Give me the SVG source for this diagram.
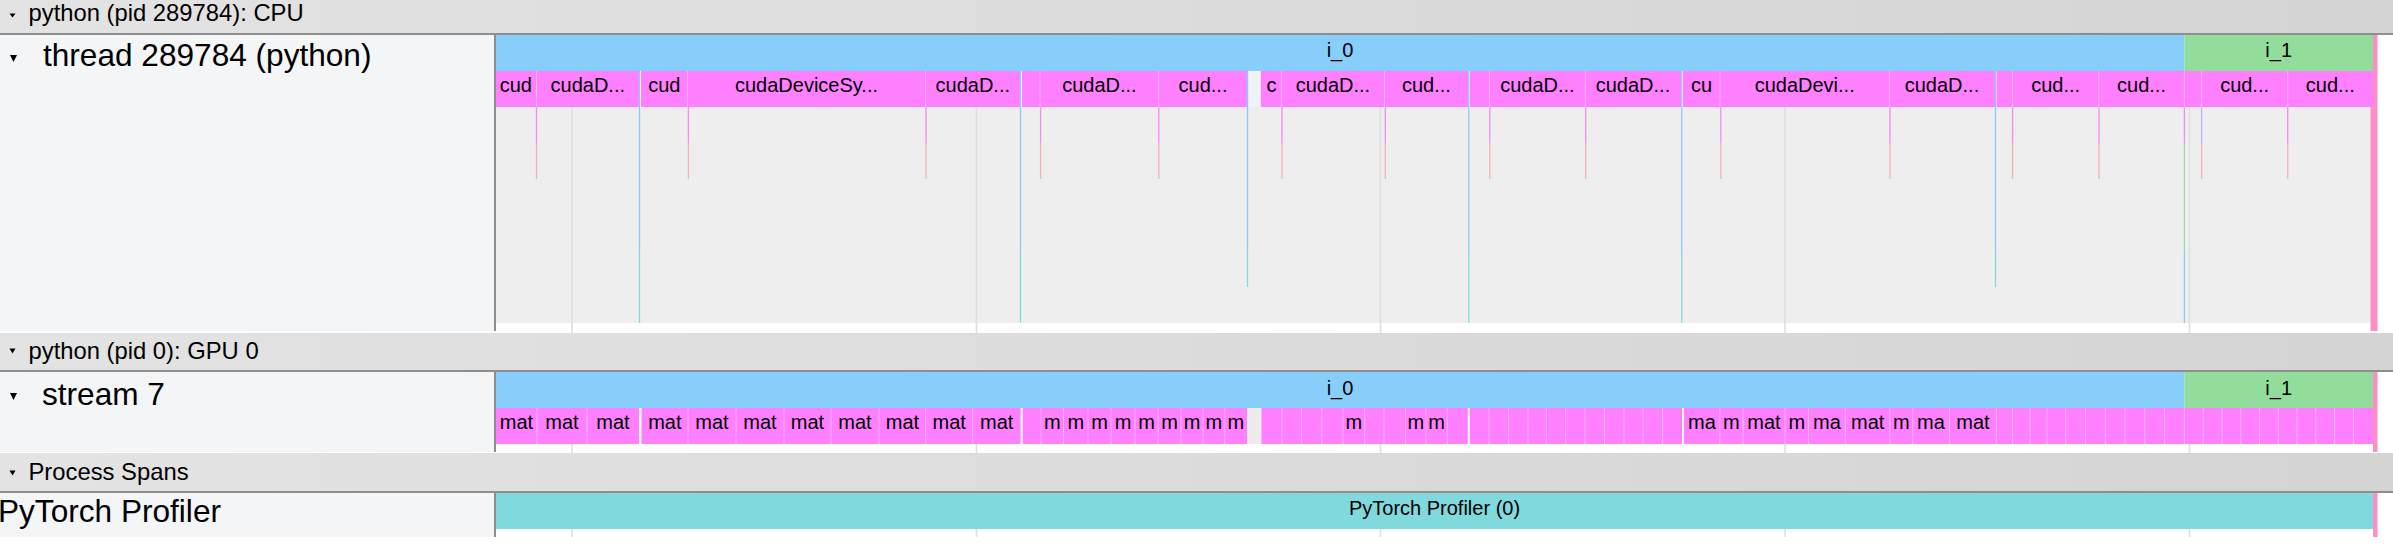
<svg xmlns="http://www.w3.org/2000/svg" width="2393" height="547" viewBox="0 0 2393 547">
<defs>
<linearGradient id="hg" x1="0" y1="0" x2="1" y2="0">
<stop offset="0" stop-color="#e3e3e3"/>
<stop offset="1" stop-color="#d4d4d4"/>
</linearGradient>
</defs>
<style>
text{font-family:"Liberation Sans",Arial,Helvetica,sans-serif;fill:#000}
.hdr{fill:url(#hg)}
.hl{fill:#8e8e8e}
.panel{fill:#f4f5f7}
.trk{fill:#eeeeee}
.pk{fill:#ff80ff}
.bl{fill:#87cefa}
.gr{fill:#92dd9c}
.tl{fill:#80d9dc}
.strip{fill:#fb8fc6}
.grid{stroke:#dfdfdf;stroke-width:1.6;fill:none}
.sep{stroke:#ffb2ff;stroke-width:1;fill:none}
.lb{font-size:20px;text-anchor:middle}
.ht{font-size:23.8px}
.tn{font-size:31.6px}
.tri{fill:#000}
.vp{stroke:#f18cf1;stroke-width:1.3;fill:none}
.vr{stroke:#f5b3b8;stroke-width:1.3;fill:none}
.vb{stroke:#8ec8f6;stroke-width:1.3;fill:none}
.vt{stroke:#86d9da;stroke-width:1.3;fill:none}
.vg{stroke:#9edc9e;stroke-width:1.3;fill:none}
.vl{stroke:#b2b8f6;stroke-width:1.3;fill:none}
</style>
<rect x="0" y="0" width="2393" height="547" fill="#ffffff"/>

<g id="left-panels">
<rect class="panel" x="0" y="35" width="494" height="296"/>
<rect class="panel" x="0" y="372" width="494" height="80"/>
<rect class="panel" x="0" y="493" width="494" height="44"/>
<rect class="hl" x="494" y="35" width="2" height="296"/>
<rect class="hl" x="494" y="372" width="2" height="80"/>
<rect class="hl" x="494" y="493" width="2" height="44"/>
</g>

<g id="track-bg">
<rect class="trk" x="496" y="107" width="1877" height="216"/>
</g>

<g id="gridlines">
<path class="grid" d="M572 35V537M976.5 35V537M1380.5 35V537M1785 35V537M2189.5 35V537"/>
</g>

<g id="cpu-thread-track">
<g id="cpu-level0">
<rect class="bl" x="496" y="35" width="1688.4" height="36"/>
<text class="lb" x="1340" y="57">i_0</text>
<rect class="gr" x="2184.4" y="35" width="188.6" height="36"/>
<text class="lb" x="2278.7" y="57">i_1</text>
</g>
<g id="cpu-level1">
<rect x="1247.3" y="71" width="13.5" height="36" fill="#edf3f7"/>
<rect class="pk" x="496" y="71" width="143" height="36"/>
<rect class="pk" x="641" y="71" width="379" height="36"/>
<rect class="pk" x="1022" y="71" width="225.3" height="36"/>
<rect class="pk" x="1260.8" y="71" width="207.4" height="36"/>
<rect class="pk" x="1470" y="71" width="211" height="36"/>
<rect class="pk" x="1683" y="71" width="312" height="36"/>
<rect class="pk" x="1996.5" y="71" width="376.5" height="36"/>
<path class="sep" d="M536.5 71V107M687.5 71V107M925.5 71V107M1040 71V107M1158.8 71V107M1281.2 71V107M1384.5 71V107M1489.4 71V107M1585.3 71V107M1720 71V107M1889.3 71V107M2012.6 71V107M2098.7 71V107M2184.4 71V107M2201.6 71V107M2287.7 71V107"/>
<text class="lb" x="515.8" y="92">cud</text>
<text class="lb" x="587.8" y="92">cudaD...</text>
<text class="lb" x="664.3" y="92">cud</text>
<text class="lb" x="806.5" y="92">cudaDeviceSy...</text>
<text class="lb" x="972.8" y="92">cudaD...</text>
<text class="lb" x="1099.4" y="92">cudaD...</text>
<text class="lb" x="1203" y="92">cud...</text>
<text class="lb" x="1271.5" y="92">c</text>
<text class="lb" x="1332.9" y="92">cudaD...</text>
<text class="lb" x="1426.4" y="92">cud...</text>
<text class="lb" x="1537.4" y="92">cudaD...</text>
<text class="lb" x="1633" y="92">cudaD...</text>
<text class="lb" x="1701.5" y="92">cu</text>
<text class="lb" x="1804.7" y="92">cudaDevi...</text>
<text class="lb" x="1942" y="92">cudaD...</text>
<text class="lb" x="2055.7" y="92">cud...</text>
<text class="lb" x="2141.5" y="92">cud...</text>
<text class="lb" x="2244.6" y="92">cud...</text>
<text class="lb" x="2330.3" y="92">cud...</text>
</g>
<g id="cpu-deep-slices">
<path class="vp" d="M536.5 107V143M688.4 107V143M926 107V143M1040.6 107V143M1158.8 107V143M1282 107V143M1385.3 107V143M1489.8 107V143M1585.7 107V143M1720.8 107V143M1890 107V143M2012.6 107V143M2099 107V143M2287.7 107V143M2184.4 107V143"/>
<path class="vr" d="M536.5 143V179M688.4 143V179M926 143V179M1040.6 143V179M1158.8 143V179M1282 143V179M1385.3 143V179M1489.8 143V179M1585.7 143V179M1720.8 143V179M1890 143V179M2012.6 143V179M2099 143V179M2287.7 143V179M2201.6 143V179"/>
<path class="vl" d="M2201.6 107V143"/>
<path class="vg" d="M2184.4 143V251"/>
<path class="vb" d="M639.5 71V251M1020.5 71V251M1468.8 71V251M1681.8 71V251M1247.5 71V251M1995.5 71V251M2184.4 251V323"/>
<path class="vt" d="M639.5 251V323M1020.5 251V323M1468.8 251V323M1681.8 251V323M1247.5 251V287M1995.5 251V287"/>
</g>
<rect class="strip" x="2373" y="35" width="4.5" height="296"/>
<rect class="strip" x="2370.5" y="107" width="2.5" height="224"/>
</g>

<g id="gpu-stream-track">
<g id="gpu-level0">
<rect class="bl" x="496" y="372" width="1688.4" height="36"/>
<text class="lb" x="1340" y="394.5">i_0</text>
<rect class="gr" x="2184.4" y="372" width="188.6" height="36"/>
<text class="lb" x="2278.7" y="394.5">i_1</text>
</g>
<g id="gpu-level1">
<rect x="1247" y="408" width="14.4" height="36" fill="#ececec"/>
<rect class="pk" x="496" y="408" width="143" height="36"/>
<rect class="pk" x="641.5" y="408" width="379.1" height="36"/>
<rect class="pk" x="1022.7" y="408" width="224.3" height="36"/>
<rect class="pk" x="1261.4" y="408" width="206.4" height="36"/>
<rect class="pk" x="1469.8" y="408" width="212.2" height="36"/>
<rect class="pk" x="1684" y="408" width="689" height="36"/>
<path class="sep" d="M537 408V444M587 408V444M688 408V444M736 408V444M784 408V444M831 408V444M879 408V444M925.7 408V444M972.7 408V444M1041 408V444M1063.5 408V444M1088 408V444M1111 408V444M1135 408V444M1158 408V444M1181 408V444M1203 408V444M1224.7 408V444M1282 408V444M1301.4 408V444M1321.8 408V444M1343 408V444M1364.7 408V444M1384 408V444M1405.5 408V444M1426 408V444M1447.3 408V444M1489 408V444M1508.6 408V444M1528 408V444M1546.3 408V444M1565.7 408V444M1585 408V444M1604.5 408V444M1624 408V444M1643 408V444M1662.6 408V444M1719.8 408V444M1743 408V444M1785 408V444M1808.6 408V444M1845.3 408V444M1890 408V444M1912.7 408V444M1949.4 408V444M1996.3 408V444M2012.6 408V444M2030 408V444M2047 408V444M2065.7 408V444M2085.5 408V444M2105.3 408V444M2125 408V444M2144.8 408V444M2164.6 408V444M2184.4 408V444M2203.2 408V444M2222 408V444M2240.8 408V444M2259.5 408V444M2278.3 408V444M2297 408V444M2315.8 408V444M2334.6 408V444M2353.4 408V444"/>
<text class="lb" x="516.5" y="429">mat</text>
<text class="lb" x="562" y="429">mat</text>
<text class="lb" x="613" y="429">mat</text>
<text class="lb" x="664.8" y="429">mat</text>
<text class="lb" x="712" y="429">mat</text>
<text class="lb" x="760" y="429">mat</text>
<text class="lb" x="807.5" y="429">mat</text>
<text class="lb" x="855" y="429">mat</text>
<text class="lb" x="902.4" y="429">mat</text>
<text class="lb" x="949.2" y="429">mat</text>
<text class="lb" x="996.7" y="429">mat</text>
<text class="lb" x="1052.3" y="429">m</text>
<text class="lb" x="1075.8" y="429">m</text>
<text class="lb" x="1099.5" y="429">m</text>
<text class="lb" x="1123" y="429">m</text>
<text class="lb" x="1146.5" y="429">m</text>
<text class="lb" x="1169.5" y="429">m</text>
<text class="lb" x="1192" y="429">m</text>
<text class="lb" x="1213.9" y="429">m</text>
<text class="lb" x="1235.9" y="429">m</text>
<text class="lb" x="1353.9" y="429">m</text>
<text class="lb" x="1415.8" y="429">m</text>
<text class="lb" x="1436.7" y="429">m</text>
<text class="lb" x="1701.9" y="429">ma</text>
<text class="lb" x="1731.4" y="429">m</text>
<text class="lb" x="1764" y="429">mat</text>
<text class="lb" x="1796.8" y="429">m</text>
<text class="lb" x="1827" y="429">ma</text>
<text class="lb" x="1867.7" y="429">mat</text>
<text class="lb" x="1901.4" y="429">m</text>
<text class="lb" x="1931" y="429">ma</text>
<text class="lb" x="1972.9" y="429">mat</text>
</g>
<rect class="strip" x="2373" y="372" width="4.5" height="80"/>
</g>

<g id="process-spans-track">
<rect class="tl" x="496" y="493" width="1877" height="36"/>
<text class="lb" x="1434.5" y="514.5">PyTorch Profiler (0)</text>
<rect class="strip" x="2373" y="493" width="4.5" height="44"/>
</g>

<g id="headers">
<g id="hdr-cpu">
<rect class="hdr" x="0" y="0" width="2393" height="33"/>
<rect class="hl" x="0" y="33" width="2393" height="2"/>
<polygon class="tri" points="9.5,13.5 15.5,13.5 12.5,17.5"/>
<text class="ht" x="28.5" y="21">python (pid 289784): CPU</text>
</g>
<g id="hdr-gpu">
<rect class="hdr" x="0" y="333" width="2393" height="37"/>
<rect class="hl" x="0" y="370" width="2393" height="2"/>
<polygon class="tri" points="9.5,348.5 15.5,348.5 12.5,353.5"/>
<text class="ht" x="28.5" y="359">python (pid 0): GPU 0</text>
</g>
<g id="hdr-spans">
<rect class="hdr" x="0" y="453" width="2393" height="38"/>
<rect class="hl" x="0" y="491" width="2393" height="2"/>
<polygon class="tri" points="9.5,470.5 15.5,470.5 12.5,475.5"/>
<text class="ht" x="28.5" y="480">Process Spans</text>
</g>
</g>

<g id="track-labels">
<g id="lbl-thread">
<polygon class="tri" points="10,55 17,55 13.5,62"/>
<text class="tn" x="43" y="66">thread 289784 (python)</text>
</g>
<g id="lbl-stream">
<polygon class="tri" points="10,393 17,393 13.5,400"/>
<text class="tn" x="42" y="405">stream 7</text>
</g>
<g id="lbl-profiler">
<text class="tn" x="-2" y="522">PyTorch Profiler</text>
</g>
</g>
</svg>
